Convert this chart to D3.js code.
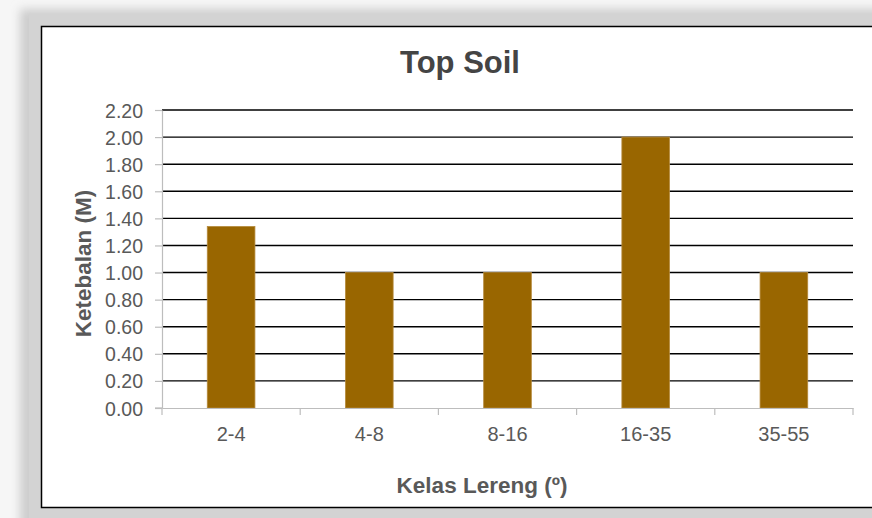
<!DOCTYPE html>
<html>
<head>
<meta charset="utf-8">
<script src="https://cdn.jsdelivr.net/npm/d3@7"></script>
<style>
  html, body { margin: 0; padding: 0; background: #f6f6f6; overflow: hidden; }
  svg { display: block; }
</style>
</head>
<body>
<svg id="chart" width="872" height="518"></svg>
<script>
const categories = ["2-4", "4-8", "8-16", "16-35", "35-55"];
const values = [1.34, 1.00, 1.00, 2.00, 1.00];
const yTicks = [0, 0.2, 0.4, 0.6, 0.8, 1.0, 1.2, 1.4, 1.6, 1.8, 2.0, 2.2];
const titleText = "Top Soil";
const xTitle = "Kelas Lereng (\u00ba)";
const yTitle = "Ketebalan (M)";

const svg = d3.select("#chart");
const font = "'Liberation Sans', Arial, sans-serif";

// frame & shadow
const defs = svg.append("defs");
const f = defs.append("filter").attr("id", "blur").attr("x", "-10%").attr("y", "-10%").attr("width", "120%").attr("height", "120%");
f.append("feGaussianBlur").attr("stdDeviation", 5);
svg.append("rect").attr("x", 20).attr("y", 9).attr("width", 900).attr("height", 540)
  .attr("fill", "#cdcdcd").attr("filter", "url(#blur)");
svg.append("rect").attr("x", 29).attr("y", 14).attr("width", 900).attr("height", 540)
  .attr("fill", "#d3d3d3");
svg.append("rect").attr("x", 41.5).attr("y", 26.5).attr("width", 900).attr("height", 481)
  .attr("fill", "#ffffff").attr("stroke", "#000").attr("stroke-width", 1.5);

const x = d3.scaleBand().domain(categories).range([162, 853]).padding(0);
const y = d3.scaleLinear().domain([0, 2.2]).range([408, 110]);
const barW = x.bandwidth() / 2.9;

// gridlines
svg.append("g").selectAll("line").data(yTicks.filter(d => d > 0)).join("line")
  .attr("x1", 162).attr("x2", 853)
  .attr("y1", d => y(d)).attr("y2", d => y(d))
  .attr("stroke", "#000").attr("stroke-width", 1.4);

// bars
svg.append("g").selectAll("rect").data(values).join("rect")
  .attr("x", (d, i) => x(categories[i]) + (x.bandwidth() - barW) / 2)
  .attr("y", d => y(d))
  .attr("width", barW)
  .attr("height", d => y(0) - y(d))
  .attr("fill", "#996600")
  .attr("stroke", "#b58a3c").attr("stroke-width", 0.8);

// y axis
const gy = svg.append("g").attr("transform", "translate(162,0)")
  .call(d3.axisLeft(y).tickValues(yTicks).tickFormat(d3.format(".2f"))
    .tickSize(7).tickSizeOuter(0).tickPadding(12));
gy.select(".domain").attr("stroke", "#bdbdbd").attr("stroke-width", 1.2);
gy.selectAll(".tick line").attr("stroke", "#bdbdbd").attr("stroke-width", 1.2);
gy.selectAll(".tick text").attr("font-family", font).attr("font-size", 19.5)
  .attr("fill", "#595959").attr("dy", "0.36em");

// x axis
const gx = svg.append("g").attr("transform", "translate(0,408)")
  .call(d3.axisBottom(x).tickSize(0).tickSizeOuter(0).tickPadding(19));
gx.select(".domain").attr("stroke", "#bdbdbd").attr("stroke-width", 1.2);
gx.selectAll(".tick text").attr("font-family", font).attr("font-size", 20)
  .attr("fill", "#595959");
// boundary ticks
const bounds = categories.map(c => x(c)).concat([x.range()[1]]);
gx.append("g").selectAll("line").data(bounds).join("line")
  .attr("x1", d => d).attr("x2", d => d).attr("y1", 0).attr("y2", 7)
  .attr("stroke", "#bdbdbd").attr("stroke-width", 1.2);
// short left extension of the x axis line
gx.append("line").attr("x1", 155).attr("x2", 162).attr("y1", 0).attr("y2", 0)
  .attr("stroke", "#bdbdbd").attr("stroke-width", 1.2);

// titles
svg.append("text").attr("x", 460).attr("y", 73).attr("text-anchor", "middle")
  .attr("font-family", font).attr("font-weight", "bold").attr("font-size", 31)
  .attr("fill", "#444").text(titleText);
svg.append("text").attr("x", 482).attr("y", 493).attr("text-anchor", "middle")
  .attr("font-family", font).attr("font-weight", "bold").attr("font-size", 22.5)
  .attr("fill", "#595959").text(xTitle);
svg.append("text").attr("transform", "translate(91,263.5) rotate(-90)")
  .attr("text-anchor", "middle")
  .attr("font-family", font).attr("font-weight", "bold").attr("font-size", 22.5)
  .attr("fill", "#595959").text(yTitle);
</script>
</body>
</html>
